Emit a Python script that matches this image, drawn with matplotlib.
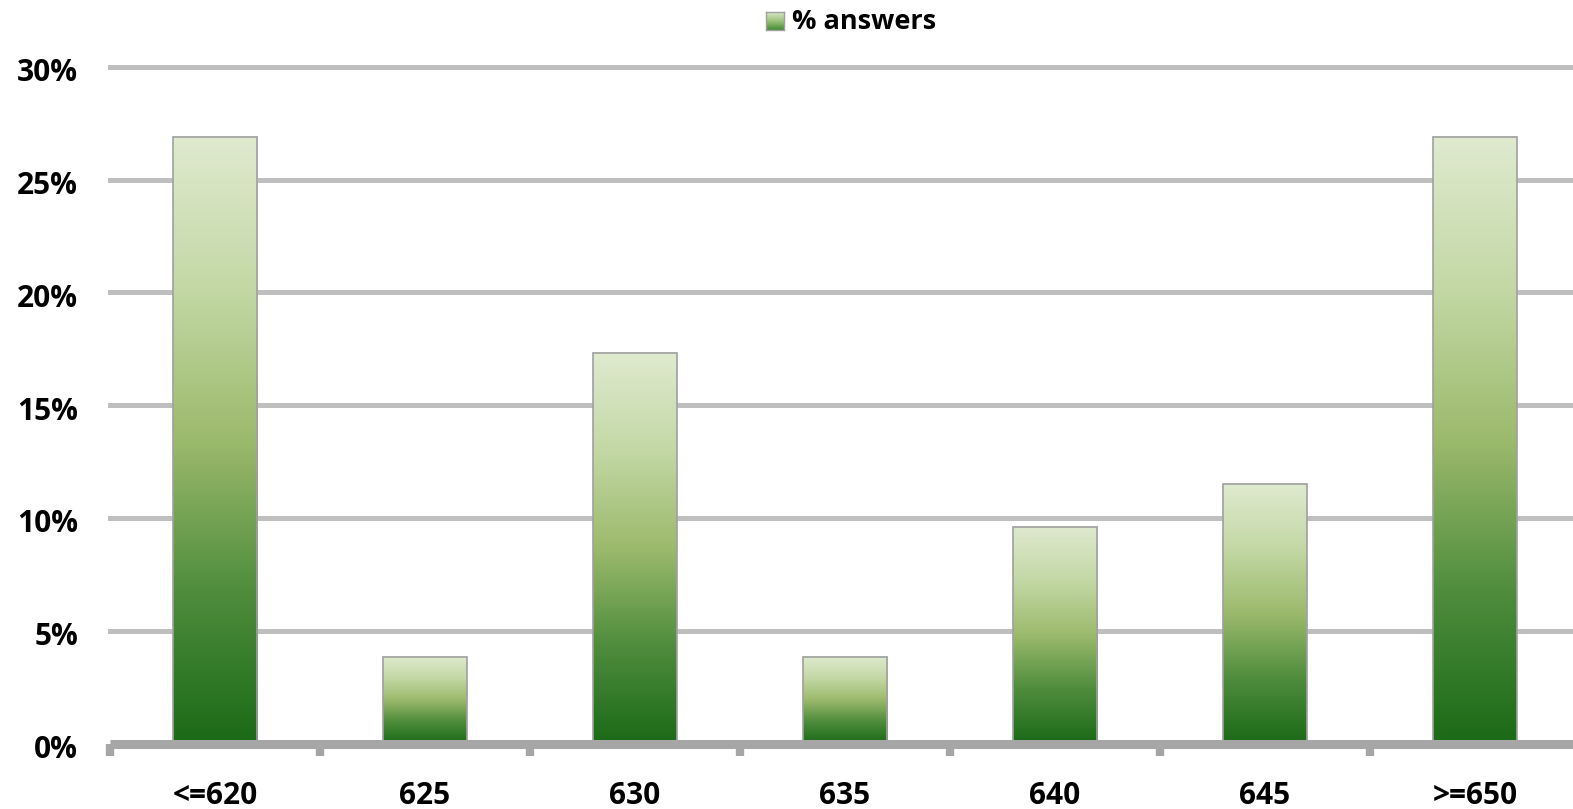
import matplotlib
matplotlib.use("Agg")
import matplotlib.pyplot as plt
import numpy as np
from matplotlib.colors import LinearSegmentedColormap
from matplotlib.ticker import FixedLocator, FuncFormatter
from matplotlib.transforms import ScaledTranslation

categories = ["<=620", "625", "630", "635", "640", "645", ">=650"]
values = [26.9, 3.85, 17.3, 3.85, 9.6, 11.5, 26.9]
yticks = [0, 5, 10, 15, 20, 25, 30]
series_name = "% answers"

plt.rcParams['font.family'] = ['Open Sans', 'DejaVu Sans']

W, H = 1573, 809
fig = plt.figure(figsize=(W / 100, H / 100), dpi=100)
ax = fig.add_axes([110 / W, (H - 743.5) / H, 1470 / W, (743.5 - 66.7) / H])

cmap = LinearSegmentedColormap.from_list(
    "g", [(0.0, "#1b6a17"), (0.25, "#4f8d3d"), (0.5, "#9cba6c"), (0.75, "#c3d8a5"), (1.0, "#dfeacf")])
grad = np.linspace(0, 1, 256).reshape(-1, 1)

bw = 0.4
x = np.arange(len(categories))
for xi, v in zip(x, values):
    ax.imshow(grad, cmap=cmap, origin="lower", aspect="auto",
              extent=[xi - bw / 2, xi + bw / 2, 0, v], zorder=2, interpolation="bilinear")
    ax.add_patch(plt.Rectangle((xi - bw / 2, 0), bw, v, fill=False,
                               edgecolor="#a0a0a0", linewidth=1.2, zorder=3))

ax.set_xlim(-0.5, len(categories) - 0.5)
ax.set_ylim(0, 30)

for t in yticks[1:]:
    ax.axhline(t, color="#bfbfbf", linewidth=3.6, zorder=1, clip_on=False)

for s in ["top", "right", "left"]:
    ax.spines[s].set_visible(False)
ax.spines["bottom"].set_color("#a6a6a6")
ax.spines["bottom"].set_linewidth(6.5)
ax.spines["bottom"].set_zorder(4)
ax.spines["bottom"].set_capstyle("butt")

ax.set_yticks(yticks)
ax.yaxis.set_major_formatter(FuncFormatter(lambda v, p: f"{int(v)}%"))
ax.tick_params(axis="y", length=0, pad=23, labelsize=21.5)
shift = ScaledTranslation(0, -3 / 100, fig.dpi_scale_trans)
for lab in ax.get_yticklabels():
    lab.set_fontweight("bold")
    lab.set_transform(lab.get_transform() + shift)

ax.xaxis.set_major_locator(FixedLocator(np.arange(-0.5, len(categories), 1.0)))
ax.xaxis.set_major_formatter(FuncFormatter(lambda v, p: ""))
ax.xaxis.set_minor_locator(FixedLocator(x))
ax.set_xticklabels(categories, minor=True)
ax.tick_params(axis="x", which="major", direction="out", length=8.5, width=6, color="#a6a6a6")
ax.tick_params(axis="x", which="minor", length=0, pad=27, labelsize=21.5)
for lab in ax.get_xticklabels(minor=True):
    lab.set_fontweight("bold")

# legend
lax = fig.add_axes([766 / W, (H - 30) / H, 18 / W, 18 / H])
lcmap = LinearSegmentedColormap.from_list("l", ["#3f8a32", "#9cc27a", "#d9e9c8"])
lax.imshow(grad, cmap=lcmap, origin="lower", aspect="auto", extent=[0, 1, 0, 1])
lax.set_xticks([]); lax.set_yticks([])
for s in lax.spines.values():
    s.set_color("#a0a0a0"); s.set_linewidth(1)
fig.text(792 / W, (H - 22) / H, series_name, ha="left", va="center",
         fontsize=19.5, fontweight="bold")

fig.savefig("out.png", dpi=100)
